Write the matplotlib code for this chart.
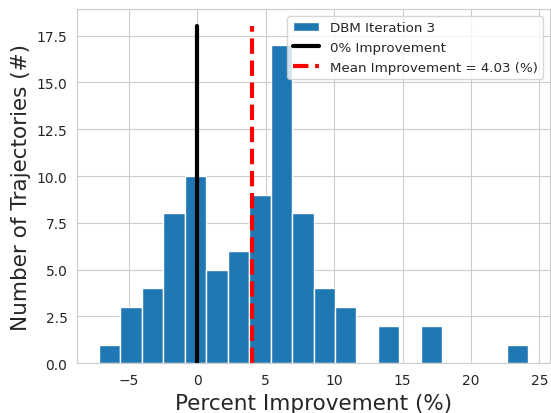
import numpy as np
import matplotlib
matplotlib.use("Agg")
import matplotlib.pyplot as plt
import seaborn as sns

sns.set_style("whitegrid")
plt.rcParams['font.family'] = ['DejaVu Sans']

bin_start = -7.21
bin_width = 1.57
n_bins = 20
counts = [1, 3, 4, 8, 10, 5, 6, 9, 17, 8, 4, 3, 0, 2, 0, 2, 0, 0, 0, 1]
mean_improvement = 4.03
line_top = 18

edges = bin_start + bin_width * np.arange(n_bins + 1)
centers = (edges[:-1] + edges[1:]) / 2

fig, ax = plt.subplots(figsize=(5.51, 4.14), dpi=100)
ax.hist(centers, bins=edges, weights=counts, color='#1f77b4', edgecolor='white',
        linewidth=1.0, label='DBM Iteration 3')
ax.plot([0, 0], [0, line_top], color='black', linewidth=3, label='0% Improvement')
ax.plot([mean_improvement, mean_improvement], [0, line_top], color='red', linewidth=3,
        linestyle='--', label='Mean Improvement = %.2f (%%)' % mean_improvement)
ax.set_xlabel('Percent Improvement (%)', fontsize=15.5)
ax.set_ylabel('Number of Trajectories (#)', fontsize=15.5)
ax.tick_params(labelsize=10)
ax.legend(loc='upper right', fontsize=9.6)
fig.subplots_adjust(left=0.14, right=0.998, top=0.975, bottom=0.12)
fig.savefig('out.png', dpi=100)
